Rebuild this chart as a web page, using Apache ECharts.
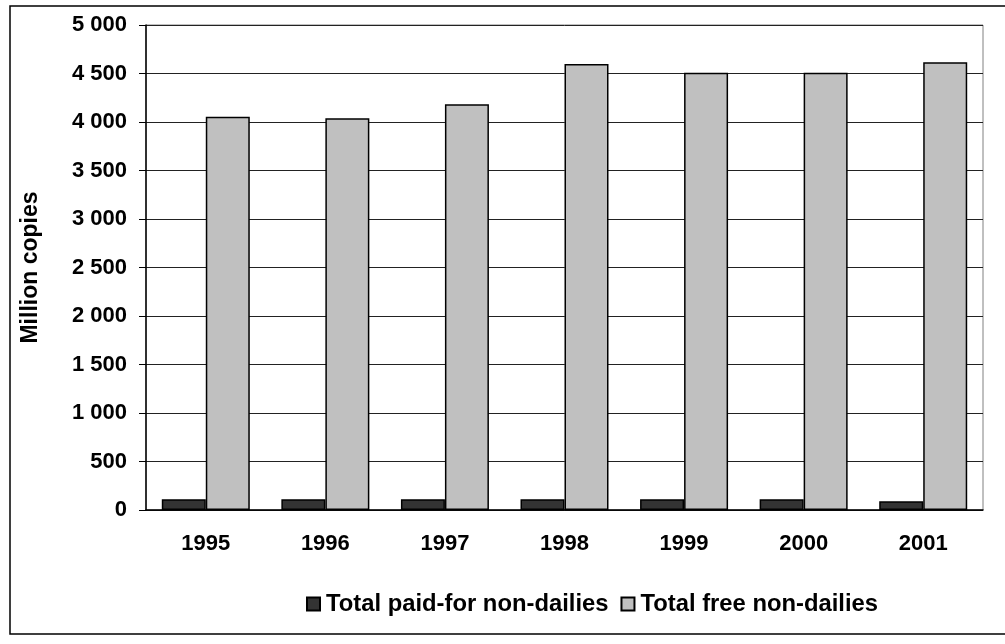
<!DOCTYPE html>
<html>
<head>
<meta charset="utf-8">
<script src="https://cdn.jsdelivr.net/npm/echarts@6/dist/echarts.min.js"></script>
<style>
  html, body { margin: 0; padding: 0; background: #fff; }
  #main { width: 1005px; height: 644px; }
</style>
</head>
<body>
<div id="main"></div>
<script>
var years = ["1995", "1996", "1997", "1998", "1999", "2000", "2001"];
var paidNonDailies = [110, 110, 110, 110, 110, 110, 90];
var freeNonDailies = [4055, 4038, 4182, 4598, 4508, 4508, 4615];
var seriesNames = ["Total paid-for non-dailies", "Total free non-dailies"];

var font = "Liberation Sans, Arial, sans-serif";

function spaced(v) {
  return String(v).replace(/\B(?=(\d{3})+(?!\d))/g, " ");
}

var myChart = echarts.init(document.getElementById("main"));

var option = {
  animation: false,
  backgroundColor: "#fff",
  textStyle: { fontFamily: font },
  graphic: [
    {
      // outer frame of the chart
      type: "rect",
      shape: { x: 10, y: 6, width: 1005, height: 628 },
      style: { fill: "none", stroke: "#000", lineWidth: 1.5 },
      silent: true
    }
  ],
  grid: {
    left: 146,
    right: 22,
    top: 25,
    bottom: 134,
    show: true,
    borderColor: "#808080",
    borderWidth: 1
  },
  legend: {
    left: 306,
    top: 592,
    padding: 0,
    itemWidth: 13,
    itemHeight: 13,
    itemGap: 12,
    icon: "rect",
    textStyle: { fontSize: 23.8, fontWeight: "bold", color: "#000", fontFamily: font, padding: [0, 0, 0, 1] },
    data: seriesNames
  },
  xAxis: {
    type: "category",
    data: years,
    axisLine: { lineStyle: { color: "#000", width: 1.5 } },
    axisTick: { length: 7, lineStyle: { color: "#000" } },
    axisLabel: { fontSize: 22, fontWeight: "bold", color: "#000", margin: 23 }
  },
  yAxis: {
    type: "value",
    min: 0,
    max: 5000,
    interval: 500,
    name: "Million copies",
    nameLocation: "middle",
    nameGap: 104,
    nameTextStyle: { fontSize: 23, fontWeight: "bold", color: "#000" },
    axisLine: { show: true, lineStyle: { color: "#000", width: 1.5 } },
    axisTick: { show: true, length: 7, lineStyle: { color: "#000" } },
    axisLabel: { fontSize: 22, fontWeight: "bold", color: "#000", margin: 19, formatter: spaced },
    splitLine: { lineStyle: { color: "#222", width: 1 } }
  },
  series: [
    {
      name: seriesNames[0],
      type: "bar",
      data: paidNonDailies,
      barWidth: 44,
      barGap: "0%",
      itemStyle: { color: "#333333", borderColor: "#000", borderWidth: 1.5 }
    },
    {
      name: seriesNames[1],
      type: "bar",
      data: freeNonDailies,
      barWidth: 44,
      itemStyle: { color: "#c0c0c0", borderColor: "#000", borderWidth: 1.5 }
    }
  ]
};

myChart.setOption(option);
</script>
</body>
</html>
